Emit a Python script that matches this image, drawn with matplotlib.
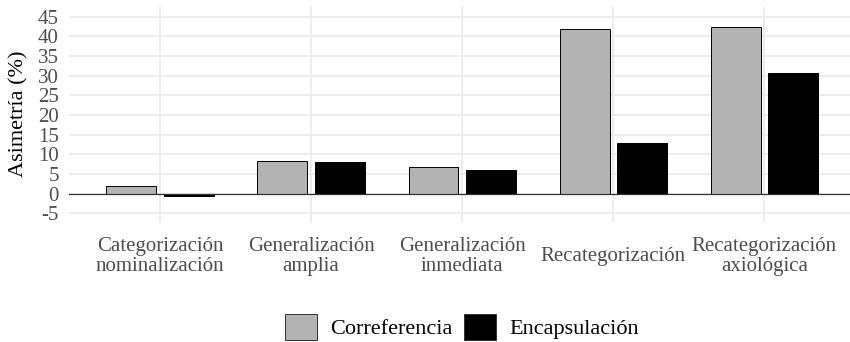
import numpy as np
import matplotlib.pyplot as plt
from matplotlib.patches import Patch

# datos
categorias = ['Categorización\nnominalización', 'Generalización\namplia',
              'Generalización\ninmediata', 'Recategorización',
              'Recategorización\naxiológica']
correferencia = [1.9, 8.2, 6.7, 42.0, 42.4]
encapsulacion = [-0.6, 8.0, 6.0, 12.8, 30.7]
series = ['Correferencia', 'Encapsulación']
yticks = list(range(-5, 50, 5))

plt.rcParams['font.family'] = ['Liberation Serif', 'DejaVu Serif']

fig = plt.figure(figsize=(8.5, 3.42), dpi=100)
W, H = 850, 342
# panel en píxeles: izquierda 69.4, derecha 855, arriba 7, abajo 222
ax = fig.add_axes([69.4 / W, 1 - 222 / H, (855 - 69.4) / W, (222 - 7) / H])

x = np.arange(1, len(categorias) + 1)
ancho = 0.33
desp = 0.19
ax.bar(x - desp, correferencia, ancho, color='#B3B3B3', edgecolor='black', linewidth=0.7, zorder=3)
ax.bar(x + desp, encapsulacion, ancho, color='black', edgecolor='black', linewidth=0.7, zorder=3)
ax.axhline(0, color='#333333', linewidth=0.9, zorder=4)

ax.set_xlim(0.4, 5.6)
ax.set_ylim(-7.2, 47.5)
ax.set_yticks(yticks)
ax.set_yticklabels([str(v) for v in yticks])
ax.set_xticks(x)
ax.set_xticklabels(categorias, linespacing=1.07)

ax.grid(True, color='#EBEBEB', linewidth=1.3, zorder=0)
ax.set_axisbelow(True)
for s in ax.spines.values():
    s.set_visible(False)
ax.tick_params(axis='both', length=0, labelsize=15, labelcolor='#4D4D4D')
ax.tick_params(axis='y', pad=7.5)
ax.tick_params(axis='x', pad=25)
for lbl in ax.get_xticklabels():
    lbl.set_verticalalignment('center')

fig.text(18.5 / W, 1 - 114 / H, 'Asimetría (%)', rotation=90, fontsize=16,
         ha='center', va='center')

handles = [Patch(facecolor='#B3B3B3', edgecolor='#333333', linewidth=0.7),
           Patch(facecolor='black', edgecolor='#333333', linewidth=0.7)]
fig.legend(handles, series, loc='center', bbox_to_anchor=(462 / W, 1 - 327 / H),
           ncol=2, frameon=False, fontsize=16, handlelength=1.44, handleheight=1.4,
           handletextpad=0.59, columnspacing=0.54, borderpad=0, borderaxespad=0)

fig.savefig('out.png', dpi=100)
